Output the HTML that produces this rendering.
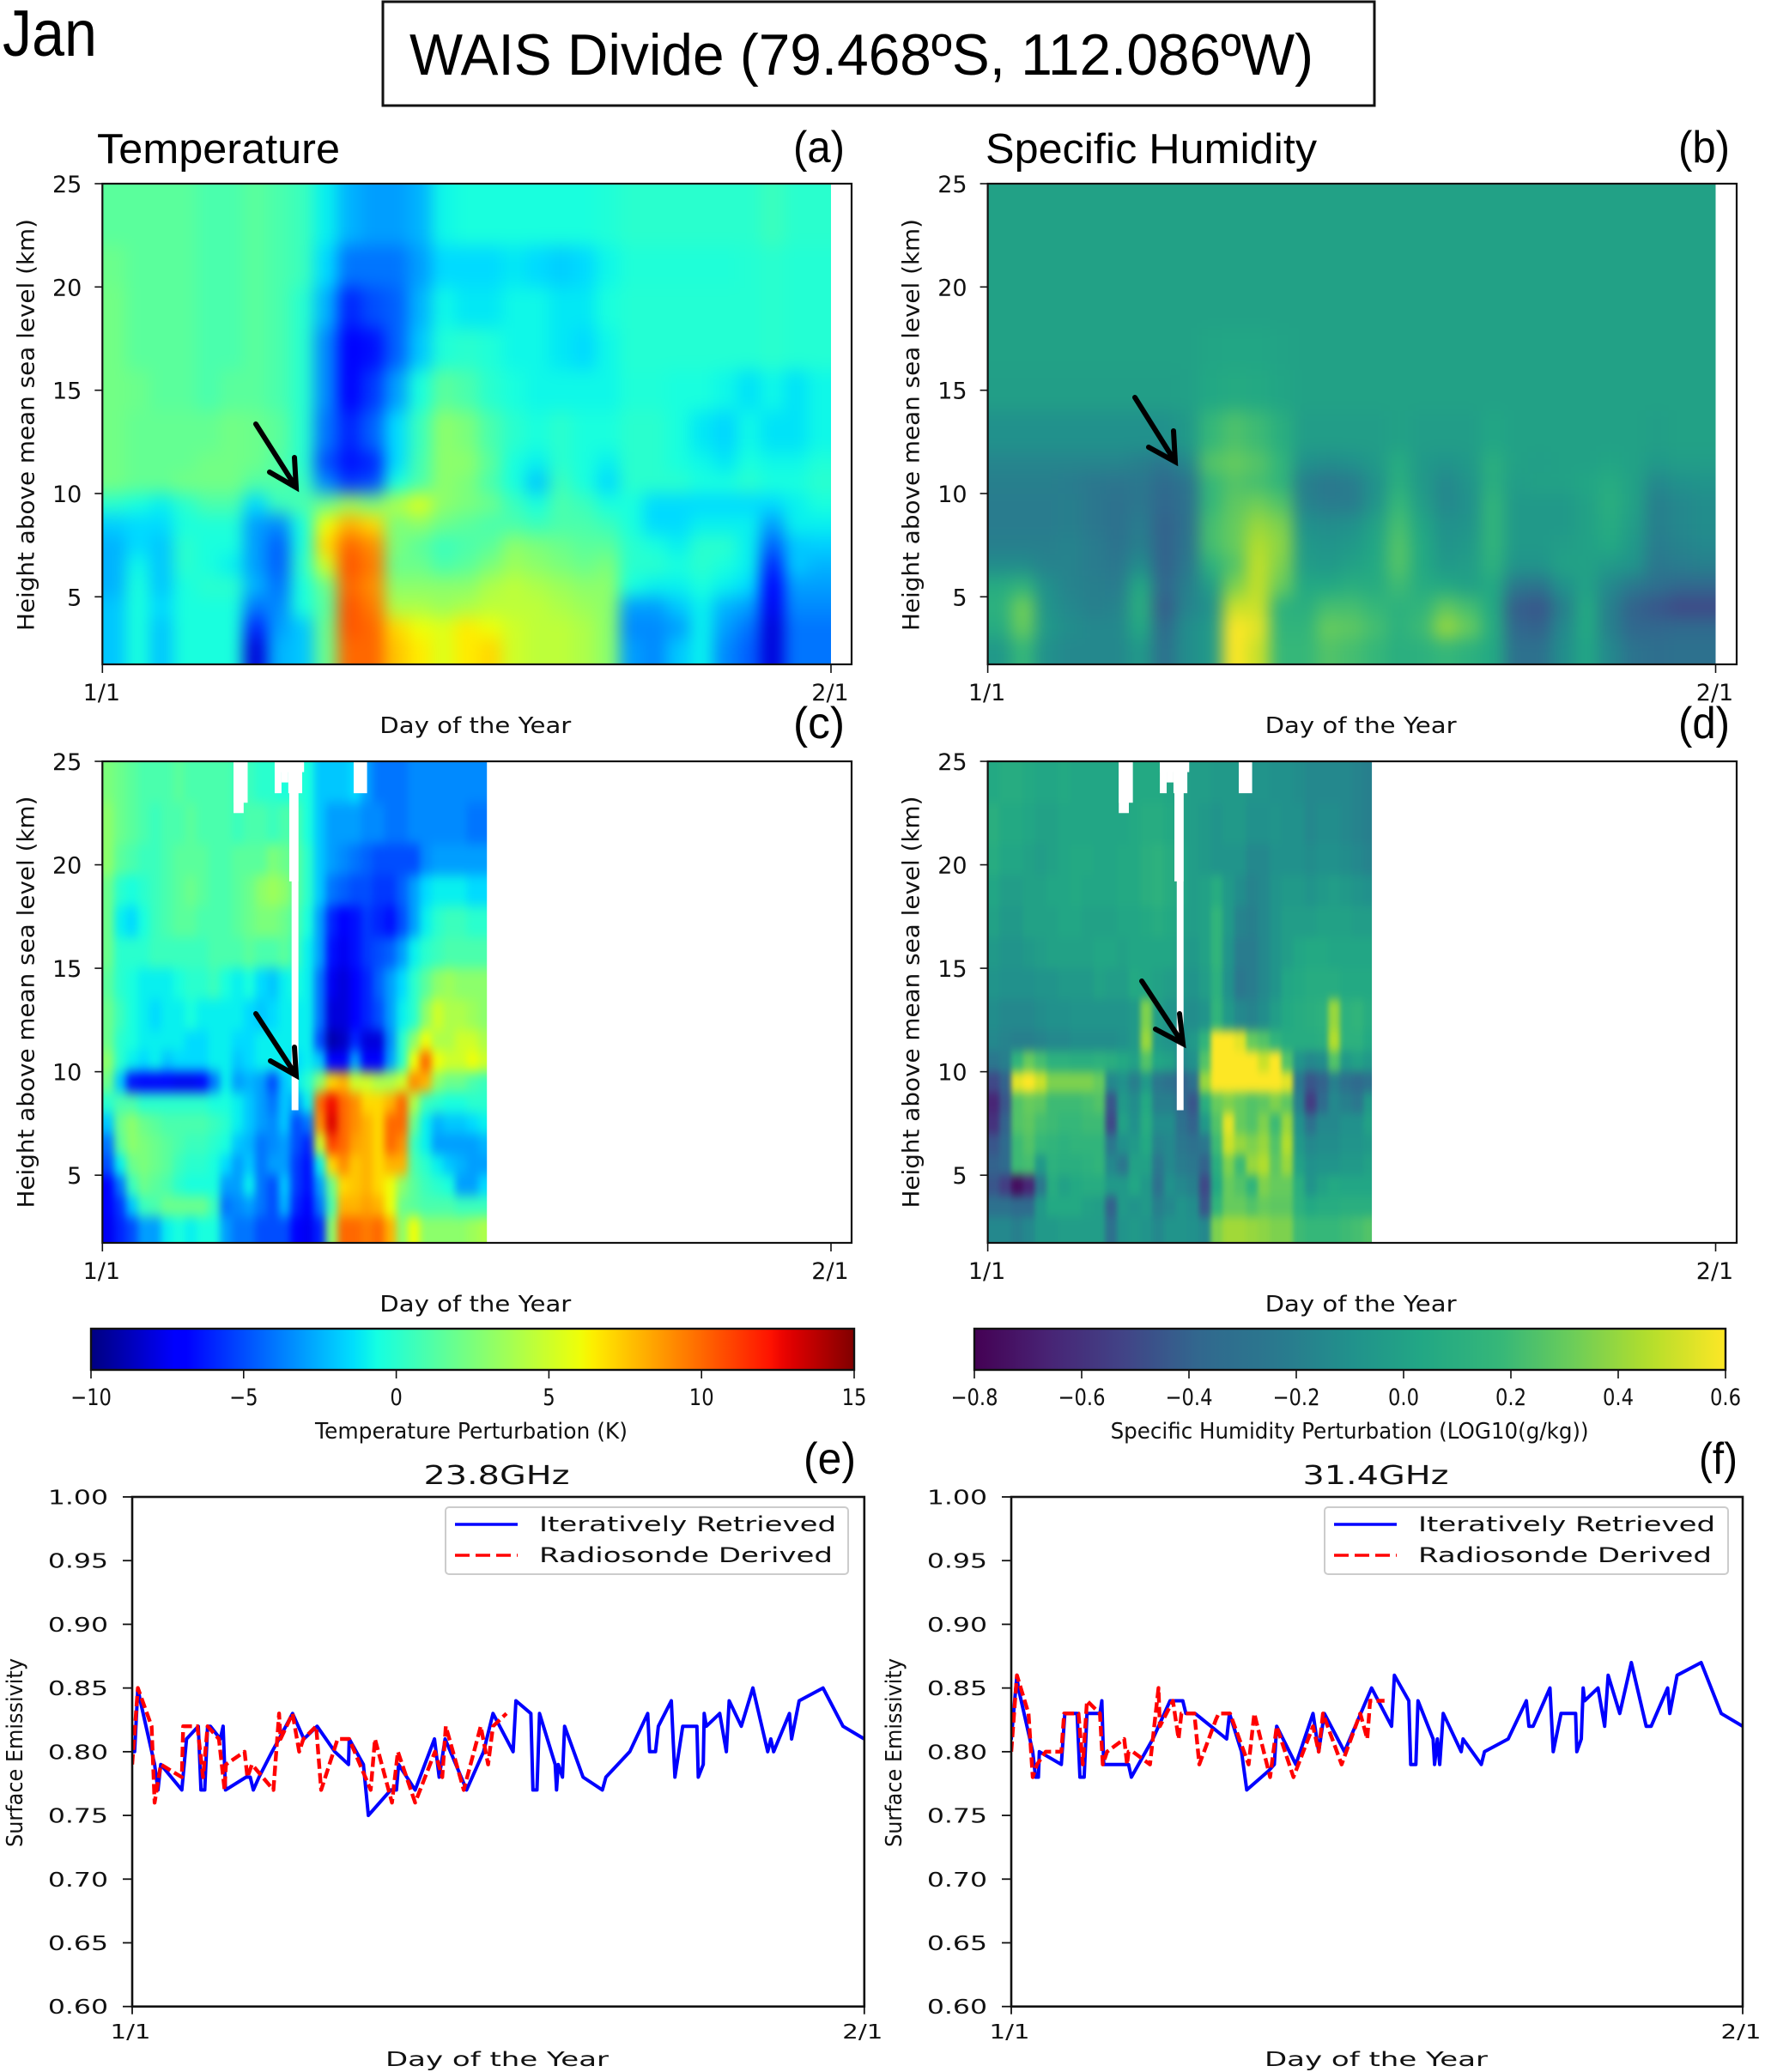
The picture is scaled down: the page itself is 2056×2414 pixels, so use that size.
<!DOCTYPE html>
<html lang="en">
<head>
<meta charset="utf-8">
<title>WAIS Divide January perturbations</title>
<style>
html,body{margin:0;padding:0;background:#fff;width:2056px;height:2414px;overflow:hidden}
svg{display:block}
text{fill:#111;font-family:"DejaVu Sans","Liberation Sans",sans-serif}
.cal{font-family:"Liberation Sans",sans-serif;fill:#000}
</style>
</head>
<body>
<svg id="fig" xmlns="http://www.w3.org/2000/svg" width="2056" height="2414" viewBox="0 0 2056 2414">
  <rect x="0" y="0" width="2056" height="2414" fill="#fff"/>
  <text class="cal" x="3" y="65" font-size="76" textLength="110" lengthAdjust="spacingAndGlyphs">Jan</text>
  <rect x="446" y="2" width="1155" height="121" fill="none" stroke="#111" stroke-width="3"/>
  <text class="cal" x="477" y="87" font-size="68" textLength="1053" lengthAdjust="spacingAndGlyphs">WAIS Divide (79.468ºS, 112.086ºW)</text>
  <text class="cal" x="113" y="190" font-size="49" textLength="283" lengthAdjust="spacingAndGlyphs">Temperature</text>
  <text class="cal" x="1148" y="190" font-size="49" textLength="386" lengthAdjust="spacingAndGlyphs">Specific Humidity</text>
  <text class="cal" x="924" y="189" font-size="52" textLength="60" lengthAdjust="spacingAndGlyphs">(a)</text>
  <text class="cal" x="1955" y="189" font-size="52" textLength="60" lengthAdjust="spacingAndGlyphs">(b)</text>
  <text class="cal" x="924" y="860" font-size="52" textLength="60" lengthAdjust="spacingAndGlyphs">(c)</text>
  <text class="cal" x="1955" y="860" font-size="52" textLength="60" lengthAdjust="spacingAndGlyphs">(d)</text>
  <text class="cal" x="936" y="1717" font-size="52" textLength="61" lengthAdjust="spacingAndGlyphs">(e)</text>
  <text class="cal" x="1979" y="1717" font-size="52" textLength="45" lengthAdjust="spacingAndGlyphs">(f)</text>
  <g id="plots"></g>
  <g fill="none" stroke="#000" stroke-width="6" stroke-linecap="round" stroke-linejoin="miter">
    <path d="M298 494L345 568M314 550L345 568L343 533"/>
  </g>
  <g fill="none" stroke="#000" stroke-width="6" stroke-linecap="round">
    <path d="M1322 463L1369 538M1338 521L1369 538L1367 502"/>
  </g>
  <g fill="none" stroke="#000" stroke-width="6" stroke-linecap="round">
    <path d="M298 1181L345 1253M315 1236L345 1253L343 1220"/>
  </g>
  <g fill="none" stroke="#000" stroke-width="6" stroke-linecap="round">
    <path d="M1330 1143L1378 1216M1346 1199L1378 1216L1374 1181"/>
  </g>
  <g>
    <rect x="519" y="1756" width="469" height="78" rx="4" fill="#fff" fill-opacity=".85" stroke="#ccc" stroke-width="2"/>
    <line x1="530" y1="1776" x2="603" y2="1776" stroke="#00f" stroke-width="3.5"/>
    <line x1="530" y1="1812" x2="603" y2="1812" stroke="#f00" stroke-width="3.5" stroke-dasharray="17 7"/>
    <text x="628" y="1784" font-size="24" textLength="346" lengthAdjust="spacingAndGlyphs">Iteratively Retrieved</text>
    <text x="628" y="1820" font-size="24" textLength="342" lengthAdjust="spacingAndGlyphs">Radiosonde Derived</text>
  </g>
  <g>
    <rect x="1543" y="1756" width="470" height="78" rx="4" fill="#fff" fill-opacity=".85" stroke="#ccc" stroke-width="2"/>
    <line x1="1554" y1="1776" x2="1627" y2="1776" stroke="#00f" stroke-width="3.5"/>
    <line x1="1554" y1="1812" x2="1627" y2="1812" stroke="#f00" stroke-width="3.5" stroke-dasharray="17 7"/>
    <text x="1652" y="1784" font-size="24" textLength="346" lengthAdjust="spacingAndGlyphs">Iteratively Retrieved</text>
    <text x="1652" y="1820" font-size="24" textLength="342" lengthAdjust="spacingAndGlyphs">Radiosonde Derived</text>
  </g>
</svg>
<script>
// ---------- heatmap data: heights in km, values in K or hundredths of log10(g/kg) ----------
const modelHeightEdges=[25,22,20,18,16,14,12,11,10,9,8,7,6,5,4,3,1.73];
const sondeHeightEdges=[25,23,21,19.5,18,16.5,15,13.5,12,11,10,9,8,7,6,5,4,3,1.73];
const yTickValues=[5,10,15,20,25];
const xTickLabels=['1/1','2/1'];
const xTickDays=[0,31];
const missingSpans=[[5.58,6.18,25,23],[5.58,6.01,25,22.5],[7.33,8.58,25,24.48],[7.33,7.62,25,23.46],[7.62,7.91,25,23.98],[7.91,8.5,25,23.46],[7.95,8.34,25,19.2],[8.05,8.34,25,8.14],[10.69,11.26,25,23.46]];

const modelTemperature=[
[1.5,1.5,1.5,1.5,1,1,1.5,1,.5,-1,-2.5,-3,-3,-2.5,-.8,-.5,-.5,-.5,-.5,-.5,-.5,-.3,0,0,0,0,0,0,.5,0,0],
[2,1.5,1.5,1.5,1,1,1.5,1,.5,-1.5,-4,-4,-4,-3,-1.5,-1.5,-1.5,-1.2,-1.5,-1.8,-1.5,-.8,-.3,-.3,-.3,-.3,-.3,-.2,0,-.2,-.2],
[2.2,1.5,1.5,1.5,1,1,1.5,1,0,-2.5,-6,-5,-4.5,-2.5,-.8,-1.2,-1.2,-.8,-.8,-1.2,-1.2,-.5,-.2,-.2,-.2,-.2,-.2,-.2,0,-.2,-.2],
[2.2,1.5,1.5,1.5,1,1,1.5,1,0,-3.5,-7,-6.5,-4.5,-2,-.3,0,-.3,-.8,-.8,-1.2,-1.5,-.8,-.2,-.2,-.2,-.2,-.2,-.2,0,-.2,-.2],
[2.2,2,1.5,1.5,1,1.5,1.5,1,0,-3.5,-7,-5.5,-3,-.5,1.5,1,0,-.5,-.8,-.8,-.8,-.8,-.3,-.3,-.5,-.5,-.8,-1.3,-.8,-1.3,-.8],
[2.2,1.8,1.8,1.8,1.8,2.2,2,1.5,0,-4,-6,-4.5,-1.5,.5,3,2.5,1,0,-.5,0,-.5,-.5,0,0,-.5,-1.2,-1.6,-.8,-1.3,-1.3,-.8],
[2.2,1.8,1.8,1.8,2.2,2.2,2,1.2,0,-5,-6.5,-6,-1.5,.8,3,3,1.5,-.5,-1,0,-.5,-1,0,0,-.5,-.8,-1.2,-.5,-.8,-.8,-.3],
[2.2,1.8,1.8,2.2,2.2,2.2,1.2,1.2,.5,-3.5,-5.5,-5,-.5,1,3,2.5,1,-.5,-2,.5,-.5,-1.5,0,0,0,-.5,-.5,0,-.5,-.5,0],
[0,-.5,-1,0,1,1,-1.5,.5,1,2,3.5,2.5,4,5.5,3,2.5,2,.5,-.5,1,.5,-.5,-.5,-1.5,-1.5,-1.5,-1.5,-1.5,-1.5,-1,-.5],
[-1.8,-1.5,-1.5,-.5,-.3,-.3,-3,-3.5,-.5,6,8,7,2.5,3,2,1.5,1,1,.5,1,1,.5,-.5,-1.5,-1.5,-1,-1,-1,-3,-1,-1],
[-2.5,-1.5,-2,0,-.5,-.5,-3,-4.5,-.5,7,10,9,2.5,1.5,.5,1,1.5,3,2.5,2,1.5,1.5,0,-.5,-1,0,0,-1,-4.5,-2,-1.8],
[-2.5,-.8,-2,0,-.5,-1,-3,-4.5,0,5,10.5,9.5,2,2,1,1.5,2.5,3.5,3,2.5,2,2.5,0,0,-.5,0,-.5,-1,-6,-2,-2.5],
[-2.5,-.5,-2,-.5,0,0,-2.5,-4,-.5,2,10,9,3,3,3,3,4,4.5,4,3.5,3,3,-.5,-1,-1,-.5,-1,-1.5,-7,-3,-3],
[-2,-.5,-1.5,-.5,-.5,-.5,-4,-3.5,-.5,1.5,10.5,9.5,4,4,3.5,4,4.5,4.5,4.5,4,3.5,3,-3,-3,-2,-1,-2.5,-3,-7.5,-3.5,-3.5],
[-2,-.5,-2,-.5,-.5,-.5,-6,-3,-2,2,10.5,10,7,6,5.5,6.5,6,5,4.5,4.5,4,3,-3.5,-3.5,-3,-1,-3,-4,-8,-4,-4],
[-2,-.5,-2,-.5,-.5,-.5,-8,-2.5,-2,2,10,10,7.5,6.5,5.5,6.5,7,5,4.5,4.5,4,3,-3,-3.5,-2,-1,-3.5,-4.5,-8,-4,-4]
];

const modelHumidity=[
[0,0,0,0,0,0,0,0,0,0,0,0,0,0,0,0,0,0,0,0,0,0,0,0,0,0,0,0,0,0,0],
[0,0,0,0,0,0,0,0,0,0,0,0,0,0,0,0,0,0,0,0,0,0,0,0,0,0,0,0,0,0,0],
[0,0,0,0,0,0,0,0,0,0,0,0,0,0,0,0,0,0,0,0,0,0,0,0,0,0,0,0,0,0,0],
[0,0,0,0,0,0,0,0,0,2,3,3,1,0,0,0,0,0,0,0,0,0,0,0,0,0,0,0,0,0,0],
[-2,-2,-2,-2,-2,-2,-2,-2,-1,4,6,5,2,0,0,0,0,0,0,0,0,0,0,0,0,0,0,0,0,0,0],
[-10,-10,-10,-10,-10,-10,-10,-10,-5,18,24,20,10,-3,-3,-3,-3,0,-3,-3,-3,3,0,0,0,0,0,0,-2,0,0],
[-17,-17,-17,-17,-17,-17,-20,-25,-15,26,30,26,16,-10,-12,-10,-5,8,-5,-8,-5,10,0,-2,0,0,2,0,-5,-3,-3],
[-20,-20,-20,-22,-25,-27,-25,-35,-28,18,25,22,15,-20,-25,-22,-10,10,-5,-15,-8,10,-3,0,0,3,8,0,-15,-10,-8],
[-22,-22,-22,-20,-25,-30,-25,-38,-30,18,28,32,25,-18,-22,-22,-8,18,-3,-15,-10,15,-5,-5,-5,0,10,0,-20,-15,-12],
[-22,-22,-22,-20,-25,-30,-22,-40,-30,22,30,40,35,-10,-12,-10,0,22,2,-10,-8,15,-5,-5,-5,0,8,-3,-20,-15,-12],
[-20,-20,-20,-18,-22,-28,-20,-40,-28,22,30,45,38,-5,-8,-5,3,25,5,-8,-5,15,-5,-5,-3,0,5,-5,-22,-18,-15],
[-12,-12,-18,-18,-22,-25,-12,-40,-25,12,25,48,35,-3,-5,0,5,25,5,-5,-3,12,-8,-8,0,0,-5,-8,-25,-22,-20],
[8,15,-10,-18,-20,-22,5,-38,-20,-3,35,48,30,5,5,10,8,20,8,5,0,5,-25,-28,-10,0,-15,-25,-32,-38,-38],
[12,32,-8,-15,-20,-18,10,-42,-18,-10,50,50,12,10,22,22,18,12,15,28,22,5,-42,-45,-20,5,-20,-40,-45,-50,-50],
[8,30,-5,-12,-15,-15,5,-35,-12,-5,60,55,15,15,30,28,22,12,20,40,30,8,-38,-40,-15,5,-20,-38,-38,-35,-35],
[-5,18,-10,-15,-15,-15,-5,-30,-12,-5,60,50,18,18,25,22,18,10,12,18,12,5,-30,-30,-12,3,-15,-28,-32,-30,-30]
];

const sondeTemperature=[
[2.5,2,1.5,1,1,1,1.5,1,1,1,1,.5,.5,0,0,-.5,0,-.5,-2,-2,-2,-1.5,-3,-4,-4,-4,-3.5,-3.5,-3.5,-3.5,-3.5,-3.5,-3.5],
[3,2,1.5,1,.5,1,1,1.5,1,1,1,.5,1,1,.5,1,1,-.5,-2,-3,-3,-3,-3.5,-3.5,-4,-4,-3.5,-3.5,-3.5,-3.5,-3.5,-4,-4],
[3,1.5,1,.5,.5,1,1.5,1.5,1.5,1,1,1.5,1.5,1.5,2.5,2,1.5,0,-2,-3,-3.5,-4,-4.5,-5,-5,-5,-5,-3.5,-3,-3,-3,-3,-3],
[2,0,-.5,0,.5,1,1.5,2,1.5,1,1,1.5,2,3,3.5,3,1.5,0,-2,-4,-4.5,-5,-5,-5.5,-5.5,-4.5,-3,-1.5,-1,-1,-1,-1.5,-1.5],
[2,-1,-1.5,-.5,.5,1,1.5,1.5,1,1,1,1.5,2,2.5,2.5,2,1,-.5,-3,-6,-7,-6.5,-5.5,-6,-6.5,-5,-3,-1,0,.5,.5,0,0],
[2,0,0,0,.5,.5,.5,.5,.5,1,1,1,1.5,1,1,1.5,.5,-1,-3,-6.5,-7.5,-6.5,-5.5,-5,-4.5,-3,-1,0,.5,1,1,1,1],
[1.5,0,-.5,-1,-1,-1,-.5,0,0,.5,-.5,-1,-.5,-1.5,-2,-1,-.5,-1,-4,-7.5,-8,-7,-6,-4.5,-3,-1.5,0,1.5,3,3.5,3,3,3],
[2,.5,-.5,-1,-1.5,-1,-1,-.5,-1,-1,-1,-1,-1.5,-2,-1.5,-1,-1,-1,-4,-8,-8,-7,-6,-5,-3,-1,0,3,5,4,4,3.5,3],
[2,0,-.5,-1,-1,-1,-1,-1.5,-1.5,-1,-1,-1.5,-1.5,-1,-1,-1,-1,-1,-5,-9,-8.5,-6,-8,-8,-3.5,0,3,6,4,4,5,5,4],
[3,0,-1,-1.5,-1,-2,-1.5,-1.5,-1.5,-1,-1,-2,-1.5,-1,-1,-1,-1.5,-1,-2,-7,-7,-3,-7,-7,-3,0,6,10,6,5,5,6,5],
[2,-2,-6.5,-7,-7,-7,-7.5,-7.5,-7,-4,-1,-3,-2.5,-3,-5,-2,-1,0,3,7,8,5,5,4,4,5,9,8,3,2,2,1,.5],
[0,1,1,0,0,0,0,0,0,-.5,-.5,-1,-2,-3,-4,-2,-3,-1,10,12.5,10,9,7,7,8,10,4,.5,0,-.5,-.5,0,0],
[-2,2,3,2,1.5,1,1,1,1,.5,0,-1,-2,-3,-3.5,-2,-5,-4,9,13,10,9,8,7,10,10,2,-1,-2.5,-2,-2,-1.5,-1],
[-4,1.5,3,2.5,2,1.5,1,.5,.5,0,-.5,-2,-2.5,-4,-3.5,-3,-5,-6,5,11,10,8.5,8,7,10,9,.5,-1,-3,-3,-3,-3,-2.5],
[-5,-1,2,2.5,2,1.5,.5,0,0,-.5,-1.5,-3,-2,-4,-3,-3,-5.5,-6.5,-1,7,9,7.5,8,7,8,8,1,0,-1,-2,-2.5,-3,-3],
[-7,-4,.5,2,1.5,1,0,-.5,-.5,-.5,-3,-3,-1,-4,-5,-2,-5.5,-6.5,-3,2,7,7.5,8,7,6,3,1.5,.5,0,-.5,-3,-3,-1.5],
[-7,-5.5,-2,.5,1,2,2,2,2,.5,-4,-3.5,-3,-4,-5,-2.5,-6,-7,-4,1,8,8,8.5,8,6,2,1.5,1,1,1,.5,.5,.5],
[-7.5,-6,-5,-3,-3,-1,-.5,-1,-.5,-.5,-3,-4,-4,-5,-5,-5,-7,-7.5,-6,3,10,10,9.5,10,8,3,6,3,3,3,3,3.5,4]
];

const sondeHumidity=[
[5,8,8,5,3,3,5,3,3,3,3,3,5,5,5,3,0,-3,-3,-5,-5,-5,-8,-8,-10,-10,-12,-15,-15,-15,-15,-18,-20],
[10,5,5,3,0,0,3,3,3,3,3,3,5,8,8,5,0,-3,-5,-8,-5,-5,-10,-10,-8,-10,-10,-15,-12,-12,-15,-18,-20],
[8,3,3,0,-3,0,3,5,5,3,3,5,5,10,12,8,3,-3,-5,-8,-8,-8,-15,-15,-10,-10,-10,-12,-10,-10,-12,-15,-18],
[3,-3,-3,0,0,3,3,5,3,3,3,5,5,10,12,8,3,-3,0,8,-5,-12,-18,-15,-8,-5,-5,-8,-5,-3,-5,-8,-10],
[0,-5,-5,0,0,0,3,3,0,0,0,3,3,5,8,5,0,-3,0,15,-5,-18,-20,-15,-8,-3,-3,-3,0,0,0,-3,-3],
[-5,-8,-8,-5,-3,0,0,0,0,3,3,0,3,3,3,3,-3,-5,0,15,-8,-22,-22,-15,-8,-3,3,5,5,3,3,3,3],
[-8,-10,-10,-10,-8,-8,-5,-5,-5,0,-3,-3,5,3,0,-3,-5,-8,-3,12,-10,-25,-22,-15,-8,3,5,8,8,8,5,5,5],
[-12,-15,-15,-15,-12,-10,-10,-8,-8,-8,-8,-8,-5,35,-3,-8,-10,-12,-8,15,-5,-15,-18,-12,-3,5,8,10,12,40,12,15,8],
[-15,-18,-20,-20,-18,-15,-15,-12,-12,-12,-12,-10,-5,40,-5,-8,-12,-5,15,60,60,55,30,25,15,8,8,8,10,45,12,12,5],
[-25,-20,15,30,22,12,12,10,10,12,10,5,0,25,3,0,-15,-10,25,60,60,60,60,50,60,25,-8,-15,-12,25,-5,0,-5],
[-50,-40,55,60,50,35,35,35,35,30,-15,-10,-20,-5,-25,-30,-40,-30,40,60,60,60,60,60,60,55,-25,-45,-40,-20,-30,-35,-30],
[-65,-45,25,30,28,20,20,20,22,25,-45,-5,-12,5,-20,-20,-35,-45,10,30,35,30,25,28,35,28,-20,-55,-35,-15,-20,-25,-5],
[-60,-40,25,28,22,20,18,18,20,20,-50,0,-10,8,-12,-12,-30,-40,-5,25,55,30,25,35,20,40,-10,-30,-15,-15,-10,-10,0],
[-45,-35,20,25,18,15,12,15,15,15,-25,-10,-5,5,-18,-15,-25,-30,-25,20,50,40,35,40,25,45,-5,-15,-12,-12,-8,-8,-5],
[-40,-35,20,22,-5,12,10,10,12,15,-15,-25,0,0,-25,-15,-22,-25,-40,10,35,20,40,45,28,40,0,-10,-8,-8,-5,-5,0],
[-45,-55,-75,-65,-25,8,0,5,8,8,-5,-5,3,-5,-30,-10,-15,-20,-50,5,30,25,15,35,30,30,10,-8,0,5,3,3,3],
[-30,-30,-35,-35,-5,5,5,5,0,-2,-40,-5,-8,-5,-20,-15,-8,-12,-45,15,30,30,25,30,28,28,12,5,8,8,10,10,10],
[-15,-15,-20,-15,-5,-5,-3,-3,-3,-3,-30,-8,-5,-8,-15,-8,-8,-10,-15,35,42,42,40,38,35,35,20,18,18,18,20,22,25]
];

// ---------- colorbar data ----------
const tempBarTicks=[-10,-5,0,5,10,15];
const tempBarLabels=['−10','−5','0','5','10','15'];
const humidBarTicks=[-.8,-.6,-.4,-.2,0,.2,.4,.6];
const humidBarLabels=['−0.8','−0.6','−0.4','−0.2','0.0','0.2','0.4','0.6'];

// ---------- emissivity data: [day, emissivity] ----------
const emisTickValues=[.6,.65,.7,.75,.8,.85,.9,.95,1];
const emisTickLabels=['0.60','0.65','0.70','0.75','0.80','0.85','0.90','0.95','1.00'];
const iter238=[[0,.80],[.10,.80],[.24,.85],[.34,.84],[.95,.79],[1.09,.77],[1.21,.79],[2.10,.77],[2.30,.81],[2.80,.82],[2.91,.77],[3.07,.77],[3.19,.82],[3.31,.82],[3.73,.81],[3.85,.82],[3.95,.77],[4.82,.78],[5.0,.78],[5.13,.77],[5.37,.78],[5.92,.80],[6.22,.81],[6.79,.83],[7.27,.81],[7.83,.82],[8.58,.80],[9.16,.79],[9.19,.81],[9.79,.79],[10.0,.75],[10.95,.77],[11.19,.77],[11.28,.79],[11.98,.77],[12.8,.81],[13.0,.78],[13.25,.81],[14.16,.77],[14.88,.80],[15.28,.83],[16.13,.80],[16.25,.84],[16.88,.83],[16.97,.77],[17.14,.77],[17.25,.83],[17.91,.79],[17.97,.77],[18.04,.79],[18.22,.78],[18.31,.82],[19.09,.78],[19.91,.77],[20.06,.78],[21.07,.80],[21.83,.83],[21.91,.80],[22.16,.80],[22.28,.82],[22.83,.84],[22.98,.78],[23.31,.82],[23.91,.82],[23.97,.78],[24.18,.79],[24.22,.83],[24.31,.82],[24.88,.83],[25.16,.80],[25.28,.84],[25.79,.82],[26.28,.85],[26.91,.80],[27.04,.81],[27.16,.80],[27.83,.83],[27.92,.81],[28.24,.84],[29.25,.85],[30.1,.82],[31,.81]];
const sonde238=[[0,.79],[.24,.85],[.82,.82],[.95,.76],[1.21,.79],[2.10,.78],[2.16,.82],[2.76,.82],[3.0,.78],[3.19,.82],[3.67,.81],[3.91,.77],[3.97,.79],[4.76,.80],[4.88,.78],[5.07,.79],[5.98,.77],[6.22,.83],[6.28,.81],[6.79,.83],[7.07,.80],[7.25,.81],[7.79,.82],[8.0,.77],[8.7,.81],[9.19,.81],[10.1,.77],[10.28,.81],[11.0,.76],[11.25,.80],[11.98,.76],[12.82,.80],[13.13,.78],[13.28,.82],[14.04,.77],[14.76,.82],[15.07,.79],[15.28,.82],[15.85,.83]];
const iter314=[[0,.81],[.24,.86],[.30,.85],[.91,.80],[1.03,.78],[1.15,.78],[1.19,.80],[2.12,.79],[2.27,.83],[2.79,.83],[2.91,.78],[3.09,.78],[3.21,.83],[3.76,.83],[3.84,.84],[3.92,.79],[4.97,.79],[5.09,.78],[6.0,.81],[6.73,.84],[7.27,.84],[7.4,.83],[7.79,.83],[9.13,.81],[9.25,.83],[9.76,.80],[9.98,.77],[10.91,.785],[11.15,.79],[11.25,.82],[12.06,.79],[12.79,.83],[13.03,.80],[13.27,.83],[14.12,.80],[15.27,.85],[16.12,.82],[16.24,.86],[16.85,.84],[16.93,.79],[17.15,.79],[17.24,.84],[17.88,.81],[17.94,.79],[18.06,.81],[18.16,.79],[18.31,.83],[19.07,.80],[19.15,.81],[19.92,.79],[20.06,.80],[21.06,.81],[21.83,.84],[21.94,.82],[22.12,.82],[22.83,.85],[22.97,.80],[23.3,.83],[23.92,.83],[23.97,.80],[24.16,.81],[24.24,.85],[24.3,.84],[24.87,.85],[25.15,.82],[25.3,.86],[25.79,.83],[26.28,.87],[26.91,.82],[27.12,.82],[27.82,.85],[27.91,.83],[28.22,.86],[29.24,.87],[30.09,.83],[31,.82]];
const sonde314=[[0,.80],[.24,.86],[.73,.83],[.91,.78],[1.09,.79],[1.46,.80],[2.12,.80],[2.24,.83],[2.85,.83],[3.03,.79],[3.21,.84],[3.76,.83],[3.88,.79],[4.06,.80],[4.79,.81],[4.91,.79],[4.97,.80],[5.15,.80],[5.88,.79],[6.24,.85],[6.3,.82],[6.85,.84],[7.09,.81],[7.21,.83],[7.76,.83],[7.97,.79],[8.67,.825],[8.79,.83],[9.27,.83],[10.06,.79],[10.3,.83],[10.97,.78],[11.25,.82],[11.96,.78],[12.79,.82],[13.03,.80],[13.21,.83],[14.0,.79],[14.79,.83],[15.09,.81],[15.21,.84],[15.82,.84]];

// ---------- colormaps ----------
function clamp01(t){return Math.max(0,Math.min(1,t));}
const jetR=[[0,0],[.35,0],[.66,1],[.89,1],[1,.5]];
const jetG=[[0,0],[.125,0],[.375,1],[.64,1],[.91,0],[1,0]];
const jetB=[[0,.5],[.11,1],[.34,1],[.65,0],[1,0]];
function ramp(t,pts){
  for(let i=0;i<pts.length-1;i++){
    if(t<=pts[i+1][0]){
      const f=(t-pts[i][0])/(pts[i+1][0]-pts[i][0]);
      return pts[i][1]+(pts[i+1][1]-pts[i][1])*f;
    }
  }
  return pts[pts.length-1][1];
}
function jetColor(v){
  const t=clamp01((v+10)/25);
  return `rgb(${Math.round(ramp(t,jetR)*255)},${Math.round(ramp(t,jetG)*255)},${Math.round(ramp(t,jetB)*255)})`;
}
const viridisStops=[[68,1,84],[72,36,117],[65,68,135],[49,104,142],[42,120,142],[33,145,140],[34,168,132],[53,183,121],[110,206,88],[181,222,43],[253,231,37]];
function viridisColor(v){
  const t=clamp01((v+.8)/1.4)*(viridisStops.length-1);
  const i=Math.min(Math.floor(t),viridisStops.length-2),f=t-i;
  const a=viridisStops[i],b=viridisStops[i+1];
  return `rgb(${Math.round(a[0]+(b[0]-a[0])*f)},${Math.round(a[1]+(b[1]-a[1])*f)},${Math.round(a[2]+(b[2]-a[2])*f)})`;
}

// ---------- drawing ----------
const NS='http://www.w3.org/2000/svg';
const fig=document.getElementById('fig');
const plots=document.getElementById('plots');
const defs=document.createElementNS(NS,'defs');
fig.insertBefore(defs,fig.firstChild);
function svgEl(tag,attrs,parent){
  const e=document.createElementNS(NS,tag);
  for(const k in attrs)e.setAttribute(k,attrs[k]);
  if(parent)parent.appendChild(e);
  return e;
}
function label(parent,str,x,y,size,sx,anchor){
  const t=svgEl('text',{transform:`translate(${x} ${y}) scale(${sx} 1)`,'font-size':size,'text-anchor':anchor},parent);
  t.textContent=str;
  return t;
}

function drawHeatmap(cfg){
  const g=svgEl('g',{},plots);
  
  
  const xScale=d=>cfg.left+d*(cfg.x31-cfg.left)/31;
  const yScale=km=>cfg.top+(25-km)*(cfg.bottom-cfg.top)/(25-1.73);
  const clip=svgEl('clipPath',{id:cfg.id+'-clip'},defs);
  svgEl('rect',{x:cfg.left,y:cfg.top,width:xScale(cfg.dataEnd)-cfg.left,height:cfg.bottom-cfg.top},clip);
  const filt=svgEl('filter',{id:cfg.id+'-blur',filterUnits:'userSpaceOnUse',x:cfg.left-80,y:cfg.top-80,width:1100,height:800,'color-interpolation-filters':'sRGB'},defs);
  svgEl('feGaussianBlur',{stdDeviation:cfg.blur},filt);
  const clipG=svgEl('g',{'clip-path':`url(#${cfg.id}-clip)`},g);
  const cells=svgEl('g',{filter:`url(#${cfg.id}-blur)`},clipG);
  cfg.grid.forEach((row,r)=>{
    row.forEach((val,c)=>{
      const x0=xScale(c*cfg.dayStep)-(c===0?40:0);
      const x1=xScale((c+1)*cfg.dayStep)+(c===row.length-1?40:0)+.5;
      const y0=yScale(cfg.edges[r])-(r===0?40:0);
      const y1=yScale(cfg.edges[r+1])+(r===cfg.grid.length-1?40:0)+.5;
      const cell=svgEl('rect',{x:x0,y:y0,width:x1-x0,height:y1-y0,fill:cfg.color(cfg.toValue(val))},cells);
      
      
    });
  });
  if(cfg.gaps){
    cfg.gaps.forEach(s=>{
      const gap=svgEl('rect',{x:xScale(s[0]),y:yScale(s[2]),width:xScale(s[1])-xScale(s[0]),height:yScale(s[3])-yScale(s[2]),fill:'#fff'},g);
      
      
    });
  }
  const frame=svgEl('rect',{x:cfg.left,y:cfg.top,width:cfg.right-cfg.left,height:cfg.bottom-cfg.top,fill:'none',stroke:'#111','stroke-width':2.2},g);
  
  
  yTickValues.forEach(v=>{
    const y=yScale(v);
    const tick=svgEl('line',{x1:cfg.left-9,x2:cfg.left,y1:y,y2:y,stroke:'#111','stroke-width':1.6},g);
    
    
    const tl=label(g,String(v),cfg.left-24,y+10,27,1,'end');
    
    
  });
  xTickDays.forEach((d,i)=>{
    const x=xScale(d);
    const tick=svgEl('line',{x1:x,x2:x,y1:cfg.bottom,y2:cfg.bottom+10,stroke:'#111','stroke-width':1.6},g);
    
    
    const tl=label(g,xTickLabels[i],x-1,cfg.bottom+42,27,1,'middle');
    
    
  });
  const xt=svgEl('text',{x:cfg.left+323,y:cfg.bottom+80,'font-size':26,textLength:223,lengthAdjust:'spacingAndGlyphs'},g);
  xt.textContent='Day of the Year';
  
  
  const cy=(cfg.top+cfg.bottom)/2-(cfg.labelShift||0);
  const yt=svgEl('text',{transform:`translate(${cfg.left-80} ${cy}) rotate(-90)`,'font-size':27,'text-anchor':'middle',textLength:480,lengthAdjust:'spacingAndGlyphs'},g);
  yt.textContent='Height above mean sea level (km)';
  
  
}

const divK=v=>v, div100=v=>v/100;
drawHeatmap({name:'panel-a-model-temperature',id:'pa',left:119.3,right:992,x31:968,top:214,bottom:774,dataEnd:31,grid:modelTemperature,edges:modelHeightEdges,dayStep:1,color:jetColor,toValue:divK,blur:'9 10',labelShift:-1});
drawHeatmap({name:'panel-b-model-humidity',id:'pb',left:1150.6,right:2023,x31:1998.5,top:214,bottom:774,dataEnd:31,grid:modelHumidity,edges:modelHeightEdges,dayStep:1,color:viridisColor,toValue:div100,blur:'9 10',labelShift:-1});
drawHeatmap({name:'panel-c-sonde-temperature',id:'pc',left:119.3,right:992,x31:968,top:887,bottom:1448,dataEnd:16.36,grid:sondeTemperature,edges:sondeHeightEdges,dayStep:.5,color:jetColor,toValue:divK,blur:'4.5 7',gaps:missingSpans,labelShift:0});
drawHeatmap({name:'panel-d-sonde-humidity',id:'pd',left:1150.6,right:2023,x31:1998.5,top:887,bottom:1448,dataEnd:16.36,grid:sondeHumidity,edges:sondeHeightEdges,dayStep:.5,color:viridisColor,toValue:div100,blur:'3 5.5',gaps:missingSpans,labelShift:0});

function drawColorbar(cfg){
  const g=svgEl('g',{},plots);
  
  
  const grad=svgEl('linearGradient',{id:cfg.id,x1:0,x2:1,y1:0,y2:0},defs);
  const first=cfg.ticks[0],last=cfg.ticks[cfg.ticks.length-1];
  for(let i=0;i<=64;i++){
    svgEl('stop',{offset:i/64,'stop-color':cfg.color(first+(last-first)*i/64)},grad);
  }
  const xs=v=>cfg.left+(v-first)*(cfg.right-cfg.left)/(last-first);
  const bar=svgEl('rect',{x:cfg.left,y:1548,width:cfg.right-cfg.left,height:48,fill:`url(#${cfg.id})`,stroke:'#111','stroke-width':2.4},g);
  
  
  cfg.ticks.forEach((v,i)=>{
    const tick=svgEl('line',{x1:xs(v),x2:xs(v),y1:1596,y2:1606,stroke:'#111','stroke-width':1.6},g);
    
    
    const tl=label(g,cfg.labels[i],xs(v),1637,27,.84,'middle');
    
    
  });
  const t=svgEl('text',{x:cfg.titleX,y:1676,'font-size':26,textLength:cfg.titleLen,lengthAdjust:'spacingAndGlyphs'},g);
  t.textContent=cfg.title;
  
  
}
drawColorbar({name:'temperature-colorbar',id:'jetgrad',left:106,right:995,ticks:tempBarTicks,labels:tempBarLabels,color:jetColor,title:'Temperature Perturbation (K)',titleX:367,titleLen:364});
drawColorbar({name:'humidity-colorbar',id:'virgrad',left:1135,right:2010,ticks:humidBarTicks,labels:humidBarLabels,color:viridisColor,title:'Specific Humidity Perturbation (LOG10(g/kg))',titleX:1293.6,titleLen:557});

function drawLinePanel(cfg){
  const g=svgEl('g',{},plots);
  
  
  const top=1744,bottom=2337.7;
  const xs=d=>cfg.left+d*(cfg.right-cfg.left)/31;
  const ys=v=>top+(1-v)*(bottom-top)/.4;
  const clip=svgEl('clipPath',{id:cfg.id+'-clip'},defs);
  svgEl('rect',{x:cfg.left,y:top,width:cfg.right-cfg.left,height:bottom-top},clip);
  const lines=svgEl('g',{'clip-path':`url(#${cfg.id}-clip)`},g);
  const blue=svgEl('polyline',{points:cfg.iter.map(p=>xs(p[0]).toFixed(1)+','+ys(p[1]).toFixed(1)).join(' '),fill:'none',stroke:'#0000ff','stroke-width':4,'stroke-linejoin':'round','stroke-linecap':'round'},lines);
  
  
  const red=svgEl('polyline',{points:cfg.sonde.map(p=>xs(p[0]).toFixed(1)+','+ys(p[1]).toFixed(1)).join(' '),fill:'none',stroke:'#ff0000','stroke-width':4.4,'stroke-dasharray':'12 5','stroke-linejoin':'round'},lines);
  
  
  const frame=svgEl('rect',{x:cfg.left,y:top,width:cfg.right-cfg.left,height:bottom-top,fill:'none',stroke:'#111','stroke-width':2.6},g);
  
  
  emisTickValues.forEach((v,i)=>{
    const y=ys(v);
    const tick=svgEl('line',{x1:cfg.left-11,x2:cfg.left,y1:y,y2:y,stroke:'#111','stroke-width':1.8},g);
    
    
    const tl=label(g,emisTickLabels[i],cfg.left-28,y+8.5,23,1.37,'end');
    
    
  });
  xTickDays.forEach((d,i)=>{
    const x=xs(d);
    const tick=svgEl('line',{x1:x,x2:x,y1:bottom,y2:bottom+9,stroke:'#111','stroke-width':1.8},g);
    
    
    const tl=label(g,xTickLabels[i],x-2,2375,23,1.27,'middle');
    
    
  });
  const xt=svgEl('text',{x:cfg.left+295,y:2407,'font-size':23,textLength:260,lengthAdjust:'spacingAndGlyphs'},g);
  xt.textContent='Day of the Year';
  
  
  const yt=svgEl('text',{transform:`translate(${cfg.left-128} 2042) rotate(-90)`,'font-size':26,'text-anchor':'middle',textLength:220,lengthAdjust:'spacingAndGlyphs'},g);
  yt.textContent='Surface Emissivity';
  
  
  const tt=svgEl('text',{x:cfg.left+339.5,y:1729,'font-size':30,textLength:170,lengthAdjust:'spacingAndGlyphs'},g);
  tt.textContent=cfg.title;
  
  
}
drawLinePanel({name:'panel-e-23-8ghz',id:'pe',left:154,right:1006.8,iter:iter238,sonde:sonde238,title:'23.8GHz'});
drawLinePanel({name:'panel-f-31-4ghz',id:'pf',left:1178,right:2030,iter:iter314,sonde:sonde314,title:'31.4GHz'});
</script>
</body>
</html>
